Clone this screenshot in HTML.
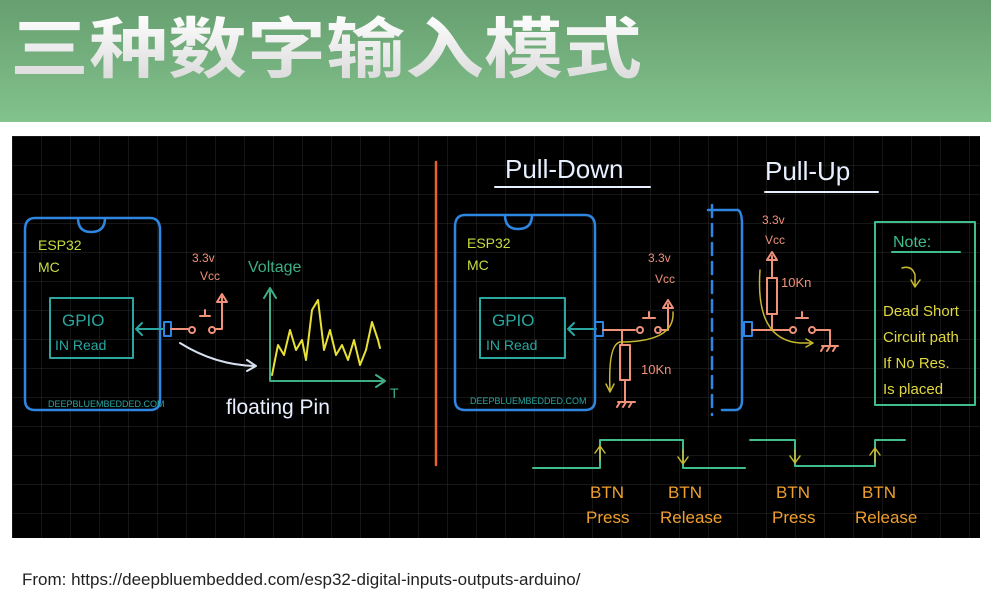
<!DOCTYPE html>
<html><head><meta charset="utf-8"><style>
body{margin:0;width:991px;height:590px;overflow:hidden;background:#fff;font-family:"Liberation Sans",sans-serif}
</style></head><body>
<svg width="991" height="590" xmlns="http://www.w3.org/2000/svg" font-family="Liberation Sans, sans-serif">
<defs>
<linearGradient id="g" x1="0" y1="0" x2="0" y2="1"><stop offset="0" stop-color="#679f70"/><stop offset="1" stop-color="#82c28c"/></linearGradient>
<linearGradient id="t" x1="0" y1="0" x2="0" y2="1"><stop offset="0" stop-color="#ffffff"/><stop offset="1" stop-color="#d8d8d8"/></linearGradient>
<pattern id="grid" width="29" height="29" patternUnits="userSpaceOnUse" x="12" y="136"><path d="M0 0V29M0 0H29" stroke="#2c2c2c" stroke-width="1" fill="none"/></pattern>
</defs>
<rect width="991" height="122" fill="url(#g)"/>
<text x="10" y="72" font-family="Liberation Sans, Noto Sans CJK SC, sans-serif" font-weight="bold" font-size="66" fill="url(#t)" textLength="632" lengthAdjust="spacingAndGlyphs">三种数字输入模式</text>
<rect x="12" y="136" width="968" height="402" fill="#000"/>
<rect x="12" y="136" width="968" height="402" fill="url(#grid)"/>
<g fill="none" stroke-linecap="round" stroke-linejoin="round">
<!-- left -->
<path d="M35 218H150Q160 218 160 230V400Q160 410 150 410H35Q25 410 25 400V230Q25 218 35 218Z M78 218Q78 232 91 232Q105 232 105 218" stroke="#2f86e0" stroke-width="2.5"/>
<rect x="50" y="298" width="83" height="60" stroke="#2aa7a0" stroke-width="2"/>
<path d="M163 329H136 M142 323L136 329L142 335" stroke="#2aa7a0" stroke-width="2"/>
<rect x="164" y="322" width="7" height="14" stroke="#2f86e0" stroke-width="2"/>
<path d="M171 329H188 M200 316H210 M205 316V310 M216 329H222V296 M217 302L222 294L227 302Z" stroke="#f0917a" stroke-width="2"/>
<circle cx="192" cy="330" r="3" stroke="#f0917a" stroke-width="2"/><circle cx="212" cy="330" r="3" stroke="#f0917a" stroke-width="2"/>
<path d="M180 343Q215 365 255 366 M247 360L256 366L247 371" stroke="#d8e0f0" stroke-width="2"/>
<path d="M270 380V290 M264 298L270 288L276 298 M270 381H383 M376 375L385 381L376 387" stroke="#3fae84" stroke-width="2"/>
<path d="M272 375L278 345L284 355L290 330L296 350L302 340L306 360L312 310L318 300L324 350L330 330L336 355L342 345L348 360L354 340L360 365L366 350L372 322L378 340L380 348" stroke="#e8e035" stroke-width="2"/>
<!-- divider -->
<path d="M436 162V465" stroke="#e8602a" stroke-width="2.5"/>
<!-- right esp -->
<path d="M465 215H585Q595 215 595 227V400Q595 410 585 410H465Q455 410 455 400V227Q455 215 465 215Z M505 215Q505 229 518 229Q532 229 532 215" stroke="#2f86e0" stroke-width="2.5"/>
<rect x="480" y="298" width="85" height="60" stroke="#2aa7a0" stroke-width="2"/>
<path d="M596 329H568 M574 323L568 329L574 335" stroke="#2aa7a0" stroke-width="2"/>
<rect x="595" y="322" width="8" height="14" stroke="#2f86e0" stroke-width="2"/>
<path d="M603 330H635 M622 330V345 M620 345H630V380H620Z M625 380V402 M618 402H635 M620 402L617 407M626 402L623 407M632 402L629 407 M643 318H655 M649 318V312 M660 330H668V304 M663 308L668 300L673 308Z" stroke="#f0917a" stroke-width="2"/>
<circle cx="640" cy="330" r="3" stroke="#f0917a" stroke-width="2"/><circle cx="658" cy="330" r="3" stroke="#f0917a" stroke-width="2"/>
<path d="M673 312Q675 342 620 342Q608 345 610 390 M606 384L610 392L614 384" stroke="#c8b830" stroke-width="1.5"/>
<path d="M712 205V415" stroke="#2f86e0" stroke-width="2.5" stroke-dasharray="12 7"/>
<path d="M708 210H738Q742 212 742 225V400Q742 410 735 410H722" stroke="#2f86e0" stroke-width="2.5"/>
<rect x="744" y="322" width="8" height="14" stroke="#2f86e0" stroke-width="2"/>
<path d="M752 330H790 M772 330V314 M767 314H777V278H767Z M772 278V256 M767 260L772 252L777 260Z M796 318H808 M802 318V312 M815 330H830V345 M822 346H838 M824 346L821 351M830 346L827 351M836 346L833 351" stroke="#f0917a" stroke-width="2"/>
<circle cx="793" cy="330" r="3" stroke="#f0917a" stroke-width="2"/><circle cx="812" cy="330" r="3" stroke="#f0917a" stroke-width="2"/>
<path d="M760 270Q755 340 800 343H812 M806 339L813 343L806 347" stroke="#c8b830" stroke-width="1.5"/>
<rect x="875" y="222" width="100" height="183" stroke="#3fbe8c" stroke-width="2"/>
<path d="M892 252H960" stroke="#3fbe8c" stroke-width="2"/>
<path d="M902 268Q912 265 915 275V285 M911 280L915 287L920 280" stroke="#c8b830" stroke-width="1.5"/>
<!-- titles underline -->
<path d="M495 187H650 M765 192H878" stroke="#e8f0ff" stroke-width="2"/>
<!-- waveforms -->
<path d="M533 468H600V440H683V468H745 M750 440H795V466H875V440H905" stroke="#3fbe8c" stroke-width="2"/>
<path d="M600 460V448 M595 453L600 446L605 453 M683 450V463 M678 457L683 464L688 457 M795 450V462 M790 456L795 463L800 456 M875 462V450 M870 455L875 448L880 455" stroke="#c8b830" stroke-width="1.5"/>
</g>
<g font-size="14">
<text x="38" y="250" fill="#c8dc40">ESP32</text><text x="38" y="272" fill="#c8dc40">MC</text>
<text x="62" y="326" fill="#2aa7a0" font-size="17">GPIO</text><text x="55" y="350" fill="#2aa7a0" font-size="14">IN Read</text>
<text x="48" y="407" fill="#2aa7a0" font-size="9">DEEPBLUEMBEDDED.COM</text>
<text x="192" y="262" fill="#f0917a" font-size="12">3.3v</text><text x="200" y="280" fill="#f0917a" font-size="12">Vcc</text>
<text x="248" y="272" fill="#3fae84" font-size="16">Voltage</text>
<text x="390" y="398" fill="#3fae84" font-size="14">T</text>
<text x="226" y="414" fill="#e8f0ff" font-size="21">floating Pin</text>
<text x="505" y="178" fill="#e8f0ff" font-size="26">Pull-Down</text>
<text x="765" y="180" fill="#e8f0ff" font-size="26">Pull-Up</text>
<text x="467" y="248" fill="#c8dc40">ESP32</text><text x="467" y="270" fill="#c8dc40">MC</text>
<text x="492" y="326" fill="#2aa7a0" font-size="17">GPIO</text><text x="486" y="350" fill="#2aa7a0">IN Read</text>
<text x="470" y="404" fill="#2aa7a0" font-size="9">DEEPBLUEMBEDDED.COM</text>
<text x="648" y="262" fill="#f0917a" font-size="12">3.3v</text><text x="655" y="283" fill="#f0917a" font-size="12">Vcc</text>
<text x="641" y="374" fill="#f0917a" font-size="13">10Kn</text>
<text x="762" y="224" fill="#f0917a" font-size="12">3.3v</text><text x="765" y="244" fill="#f0917a" font-size="12">Vcc</text>
<text x="781" y="287" fill="#f0917a" font-size="13">10Kn</text>
<text x="893" y="247" fill="#3fbe8c" font-size="16">Note:</text>
<g fill="#e0d840" font-size="15"><text x="883" y="316">Dead Short</text><text x="883" y="342">Circuit path</text><text x="883" y="368">If No Res.</text><text x="883" y="394">Is placed</text></g>
<g fill="#f0a030" font-size="17"><text x="590" y="498">BTN</text><text x="586" y="523">Press</text><text x="668" y="498">BTN</text><text x="660" y="523">Release</text>
<text x="776" y="498">BTN</text><text x="772" y="523">Press</text><text x="862" y="498">BTN</text><text x="855" y="523">Release</text></g>
</g>
<text x="22" y="585" font-size="17" fill="#222">From: https://deepbluembedded.com/esp32-digital-inputs-outputs-arduino/</text>
</svg>
</body></html>
